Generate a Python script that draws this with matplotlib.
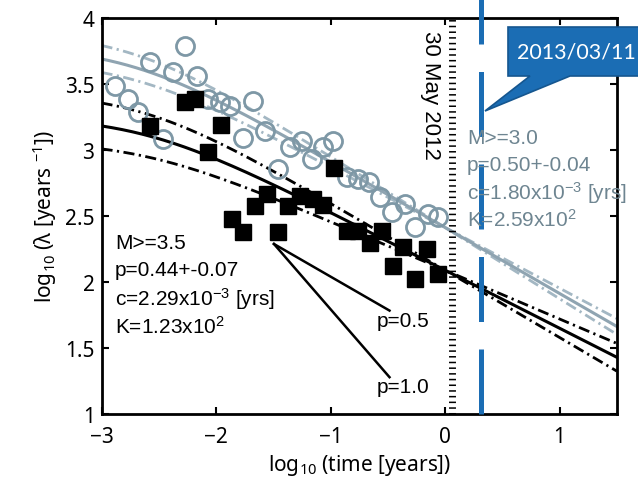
import numpy as np
import matplotlib.pyplot as plt
from matplotlib.patches import Polygon

# M>=3.0 events (grey circles): log10 time [years], log10 rate [1/years]
logt_m30 = [-2.882, -2.766, -2.679, -2.576, -2.460, -2.373, -2.271, -2.169, -2.067, -1.965,
            -1.878, -1.762, -1.674, -1.572, -1.456, -1.354, -1.251, -1.164, -1.063, -0.976,
            -0.859, -0.764, -0.664, -0.568, -0.466, -0.349, -0.262, -0.146, -0.059]
logr_m30 = [3.487, 3.386, 3.286, 3.664, 3.083, 3.589, 3.790, 3.563, 3.386, 3.361,
            3.331, 3.091, 3.371, 3.146, 2.856, 3.020, 3.070, 2.932, 3.020, 3.070,
            2.799, 2.780, 2.761, 2.644, 2.528, 2.591, 2.414, 2.515, 2.490]

# M>=3.5 events (black squares)
logt_m35 = [-2.576, -2.271, -2.183, -2.067, -1.956, -1.863, -1.762, -1.659, -1.557, -1.456,
            -1.369, -1.266, -1.150, -1.063, -0.969, -0.852, -0.757, -0.655, -0.553, -0.452,
            -0.364, -0.262, -0.160, -0.059]
logr_m35 = [3.184, 3.361, 3.386, 2.983, 3.189, 2.477, 2.377, 2.578, 2.667, 2.377,
            2.578, 2.654, 2.629, 2.583, 2.864, 2.389, 2.389, 2.295, 2.389, 2.123,
            2.263, 2.023, 2.250, 2.061]

# Omori fits  lambda = K / (t + c)^p
K35, p35, dp35, c35 = 1.23e2, 0.44, 0.07, 2.29e-3
K30, p30, dp30, c30 = 2.59e2, 0.50, 0.04, 1.80e-3

# reference slopes
ref_x0, ref_y0, ref_x1 = -1.494, 2.288, -0.485
ref_p = [0.5, 1.0]

may2012 = 0.06   # log10 years, "30 May 2012"
mar2013 = 0.31   # log10 years, 2013/03/11

grey_pt = '#7e98a6'
grey_ln = '#8fa4b1'
grey_dd = '#a3b7c3'
grey_tx = '#6e8591'
blue = '#1b6db4'

plt.rcParams['font.family'] = ['Noto Sans', 'DejaVu Sans']

fig = plt.figure(figsize=(6.38, 4.81), dpi=100)
ax = fig.add_axes([101.5 / 638, 66 / 481, 515.3 / 638, 396 / 481])

x = np.linspace(-3, 1.5, 300)
t = 10 ** x


def omori(K, p, c):
    return np.log10(K) - p * np.log10(t + c)


dd = (0, (4, 1.6, 0.8, 1.6))
ax.plot(x, omori(K30, p30 + dp30, c30), color=grey_dd, lw=2, linestyle=dd)
ax.plot(x, omori(K30, p30 - dp30, c30), color=grey_dd, lw=2, linestyle=dd)
ax.plot(x, omori(K30, p30, c30), color=grey_ln, lw=2.2)
ax.plot(x, omori(K35, p35 + dp35, c35), color='black', lw=2, linestyle=dd)
ax.plot(x, omori(K35, p35 - dp35, c35), color='black', lw=2, linestyle=dd)
ax.plot(x, omori(K35, p35, c35), color='black', lw=2.2)

ax.plot(logt_m30, logr_m30, 'o', ms=13, mfc='none', mec=grey_pt, mew=2)
ax.plot(logt_m35, logr_m35, 's', ms=11.5, color='black')

for p in ref_p:
    ax.plot([ref_x0, ref_x1], [ref_y0, ref_y0 - p * (ref_x1 - ref_x0)], color='black', lw=1.8)

ax.text(-0.594, 1.705, 'p=0.5', fontsize=15, family='Liberation Sans', va='center')
ax.text(-0.594, 1.205, 'p=1.0', fontsize=15, family='Liberation Sans', va='center')

# ruler-like line for 30 May 2012
ax.axvline(may2012, color='black', lw=5, dashes=(0.22, 0.6))
ax.text(-0.131, 3.42, '30 May 2012', rotation=270, fontsize=16, family='Liberation Sans',
        ha='center', va='center')

ax.plot([mar2013, mar2013], [1, 4.15], color=blue, lw=3.6, dashes=(13, 5.5), clip_on=False, zorder=5)

lines35 = ['M>=3.5', 'p=0.44+-0.07', r'c=2.29x10$\mathregular{^{-3}}$ [yrs]', r'K=1.23x10$\mathregular{^{2}}$']
for i, s in enumerate(lines35):
    ax.text(-2.882, 2.303 - i * 0.212, s, fontsize=15, family='Liberation Sans', va='center')

lines30 = ['M>=3.0', 'p=0.50+-0.04', r'c=1.80x10$\mathregular{^{-3}}$ [yrs]', r'K=2.59x10$\mathregular{^{2}}$']
for i, s in enumerate(lines30):
    ax.text(0.191, 3.098 - i * 0.207, s, fontsize=15, family='Liberation Sans', va='center',
            color=grey_tx, clip_on=False, zorder=6)

ax.set_xlim(-3, 1.5)
ax.set_ylim(1, 4)
ax.set_xticks([-3, -2, -1, 0, 1])
ax.set_yticks([1, 1.5, 2, 2.5, 3, 3.5, 4])
ax.set_yticklabels(['1', '1.5', '2', '2.5', '3', '3.5', '4'])
ax.tick_params(direction='in', top=True, right=True, length=5, width=1.5, labelsize=15)
ax.tick_params(axis='x', pad=9)
ax.tick_params(axis='y', pad=5)
for sp in ax.spines.values():
    sp.set_linewidth(2)

ax.set_xlabel(r'log$\mathregular{_{10}}$ (time [years])', fontsize=15, labelpad=3)
ax.set_ylabel(r'log$\mathregular{_{10}}$ (λ [years $\mathregular{^{-1}}$])', fontsize=15, labelpad=4)

# callout box
pts = [(508, 28), (650, 28), (650, 77), (570, 77), (485, 112), (530, 77), (508, 77)]
poly = Polygon([(px / 638, 1 - py / 481) for px, py in pts], closed=True, transform=fig.transFigure,
               facecolor=blue, edgecolor='#15568f', lw=1.2, zorder=10)
fig.add_artist(poly)
fig.text(517 / 638, 1 - 53 / 481, '2013/03/11', color='white', fontsize=15.5, family='Lato',
         va='center', zorder=11)

fig.savefig('out.png', dpi=100)
